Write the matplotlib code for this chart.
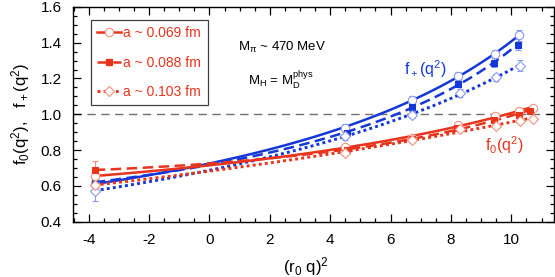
import numpy as np
import matplotlib
matplotlib.use("Agg")
from matplotlib import pyplot as plt
from matplotlib.lines import Line2D
from matplotlib.ticker import MultipleLocator

plt.rcParams['font.family'] = ['Liberation Sans', 'DejaVu Sans']
plt.rcParams['mathtext.fontset'] = 'custom'
plt.rcParams['mathtext.rm'] = 'Liberation Sans'
plt.rcParams['mathtext.it'] = 'Liberation Sans'
plt.rcParams['axes.unicode_minus'] = False

# data: (r0 q)^2 and form factors per lattice spacing
labels = ["a ~ 0.069 fm", "a ~ 0.088 fm", "a ~ 0.103 fm"]

# f0(q^2)
x0_069 = [-3.8, 4.5, 6.7, 8.23, 9.47, 10.27, 10.71]
f0_069 = [0.655, 0.815, 0.87, 0.94, 0.988, 1.021, 1.035]
e0_069 = [0.03, 0.01, 0.01, 0.01, 0.01, 0.01, 0.01]
x0_088 = [-3.8, 4.55, 6.7, 8.2, 9.41, 10.25, 10.63]
f0_088 = [0.689, 0.80, 0.86, 0.925, 0.969, 0.997, 1.021]
e0_088 = [0.05, 0.01, 0.01, 0.01, 0.01, 0.01, 0.01]
x0_103 = [-3.8, 4.5, 6.7, 8.29, 9.5, 10.28, 10.73]
f0_103 = [0.605, 0.783, 0.857, 0.917, 0.937, 0.964, 0.975]
e0_103 = [0.03, 0.01, 0.01, 0.01, 0.01, 0.01, 0.01]

# f+(q^2)
xp_069 = [-3.8, 4.5, 6.7, 8.23, 9.47, 10.27]
fp_069 = [0.61, 0.926, 1.081, 1.216, 1.337, 1.441]
ep_069 = [0.04, 0.02, 0.02, 0.02, 0.025, 0.03]
xp_088 = [-3.8, 4.55, 6.7, 8.22, 9.44, 10.22]
fp_088 = [0.620, 0.898, 1.038, 1.171, 1.287, 1.389]
ep_088 = [0.04, 0.02, 0.02, 0.02, 0.025, 0.03]
xp_103 = [-3.8, 4.5, 6.7, 8.29, 9.5, 10.28]
fp_103 = [0.573, 0.876, 0.997, 1.119, 1.206, 1.272]
ep_103 = [0.06, 0.02, 0.02, 0.02, 0.02, 0.03]

red = '#e8341c'
red_l = '#f4907f'
blue = '#1438d8'
blue_l = '#8c98ec'

styles = [('-', 'o', 'none'), ('--', 's', 'fill'), (':', 'D', 'none')]


def linestyle(ls):
    if ls == '--':
        return (0, (4.2, 2.2))
    if ls == ':':
        return (0, (1, 1.1))
    return '-'


fig = plt.figure(figsize=(5.55, 2.77), dpi=100)
ax = fig.add_axes([0.1315, 0.2, 0.866, 0.775])

ax.axhline(1.0, color='#707070', lw=1, ls=(0, (6, 4)), zorder=1)


def draw(x, y, e, ls, mk, fill, c, cl):
    x = np.array(x)
    y = np.array(y)
    # pole-like fit: 1/f as a low order polynomial
    p = np.polyfit(x, 1 / y, 2)
    xs = np.linspace(x.min(), x.max(), 100)
    lw = 2.1 if ls == ':' else 1.8
    ax.plot(xs, 1 / np.polyval(p, xs), color=c, lw=lw, ls=linestyle(ls), zorder=2)
    if fill == 'fill':
        mfc, mec, ms = c, c, 4.5
    else:
        mfc, mec, ms = 'white', cl, 6 if mk == 'o' else 5.5
    ax.errorbar(x, y, yerr=e, fmt=mk, ms=ms, mfc=mfc, mec=mec, mew=0.8,
                ecolor=cl, elinewidth=0.8, capsize=2, capthick=0.8, zorder=3)


sets0 = [(x0_069, f0_069, e0_069), (x0_088, f0_088, e0_088), (x0_103, f0_103, e0_103)]
setsp = [(xp_069, fp_069, ep_069), (xp_088, fp_088, ep_088), (xp_103, fp_103, ep_103)]
for (ls, mk, fill), (x, y, e) in zip(styles, setsp):
    draw(x, y, e, ls, mk, fill, blue, blue_l)
for (ls, mk, fill), (x, y, e) in zip(styles, sets0):
    draw(x, y, e, ls, mk, fill, red, red_l)

ax.set_xlim(-4.52, 11.4)
ax.set_ylim(0.4, 1.6)
ax.xaxis.set_major_locator(MultipleLocator(2))
ax.xaxis.set_minor_locator(MultipleLocator(0.5))
ax.yaxis.set_major_locator(MultipleLocator(0.2))
ax.yaxis.set_minor_locator(MultipleLocator(0.05))
ax.yaxis.set_major_formatter(plt.FormatStrFormatter('%.1f'))
ax.tick_params(which='both', direction='in', top=True, right=True, labelsize=11, width=0.9)
ax.tick_params(which='major', length=6, pad=8)
ax.tick_params(which='minor', length=3)
for s in ax.spines.values():
    s.set_linewidth(1)

ax.set_xlabel(r'(r$_0$ q)$^2$', fontsize=12, labelpad=2)
ax.xaxis.set_label_coords(0.484, -0.155)
ax.set_ylabel(r'f$_0$(q$^2$),   f$_+$(q$^2$)', fontsize=12, labelpad=6)

ax.text(0.95, 1.373, r'M$_\pi$ ~ 470 MeV', fontsize=9.5, va='center')
ax.text(1.29, 1.193, r'M$_H$ = M$_D^{phys}$', fontsize=9.5, va='center')
ax.text(6.45, 1.25, r'f$_+$(q$^2$)', fontsize=11.5, color=blue, va='center')
ax.text(9.12, 0.83, r'f$_0$(q$^2$)', fontsize=11.5, color=red, va='center')

handles = []
for ls, mk, fill in styles:
    lw = 2.1 if ls == ':' else 1.8
    if fill == 'fill':
        h = Line2D([], [], color=red, ls=linestyle(ls), lw=lw, marker=mk, ms=4.5,
                   mfc=red, mec=red)
    else:
        h = Line2D([], [], color=red, ls=linestyle(ls), lw=lw, marker=mk,
                   ms=6 if mk == 'o' else 5.5, mfc='white', mec=red_l, mew=0.8)
    handles.append(h)
leg = ax.legend(handles, labels, loc='upper left', bbox_to_anchor=(0.037, 0.94),
                fontsize=10, labelcolor=red, fancybox=False, framealpha=1,
                edgecolor='#404040', labelspacing=1.12, handlelength=1.7,
                handletextpad=0.2, borderpad=0.45, borderaxespad=0)
leg.get_frame().set_linewidth(0.9)

fig.savefig('out.png', dpi=100)
